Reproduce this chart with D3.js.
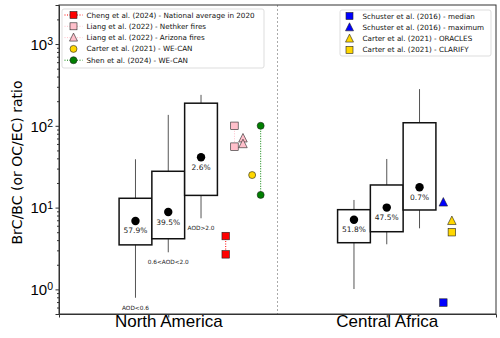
<!DOCTYPE html>
<html>
<head>
<meta charset="utf-8">
<script src="https://cdn.jsdelivr.net/npm/d3@7.9.0/dist/d3.min.js"></script>
<style>
  body { margin: 0; background: #fff; }
  svg { display: block; font-family: "DejaVu Sans", sans-serif; }
</style>
</head>
<body>
<div id="chart"></div>
<script>
// regions on the x axis and the three AOD bins inside each
const regions = ["North America", "Central Africa"];
const aodBins = ["AOD<0.6", "0.6<AOD<2.0", "AOD>2.0"];

// box stats per bin: [whisker low, q1, median, q3, whisker high]
const naStats = [
  [0.79, 3.5, 6.86, 13.0, 39],
  [2.84, 4.16, 8.83, 27.8, 136],
  [7.4, 14.1, 41.3, 189, 239]
];
const caStats = [
  [1.01, 3.72, 7.1, 9.43, 12.4],
  [3.56, 5.07, 10.0, 18.9, 39.3],
  [5.58, 9.35, 17.7, 109, 281]
];
const naPct = ["57.9%", "39.5%", "2.6%"];
const caPct = ["51.8%", "47.5%", "0.7%"];

// literature values
const chengNA = [4.49, 2.68];
const liangNethker = [100, 55.6];
const liangArizona = [70.5, 60];
const carterWECAN = [25];
const shenWECAN = [100, 14.3];
const schusterMedian = [0.69];
const schusterMax = [11.6];
const carterORACLES = [6.9];
const carterCLARIFY = [5.0];

const yTicks = [1, 10, 100, 1000];

const width = 500, height = 338;
const margin = {left: 59, right: 4, top: 5, bottom: 24};

const svg = d3.select("#chart").append("svg")
  .attr("width", width).attr("height", height);

const x = d3.scaleLinear().domain([-0.5, 1.5]).range([margin.left, width - margin.right]);
const y = d3.scaleLog().domain([0.5, 3000]).range([height - margin.bottom, margin.top]);

const boxW = 0.15;
const offsets = [-0.15, 0, 0.15];

// separator between the regions
svg.append("line")
  .attr("x1", x(0.5)).attr("x2", x(0.5))
  .attr("y1", y(3000)).attr("y2", y(0.5))
  .attr("stroke", "#aaa").attr("stroke-width", 1)
  .attr("stroke-dasharray", "2,2");

function drawBoxes(center, stats, pcts, binLabels) {
  stats.forEach((s, i) => {
    const cx = center + offsets[i];
    const g = svg.append("g");
    g.append("line")
      .attr("x1", x(cx)).attr("x2", x(cx))
      .attr("y1", y(s[0])).attr("y2", y(s[4]))
      .attr("stroke", "#555").attr("stroke-width", 1);
    g.append("rect")
      .attr("x", x(cx - boxW / 2)).attr("width", x(cx + boxW / 2) - x(cx - boxW / 2))
      .attr("y", y(s[3])).attr("height", y(s[1]) - y(s[3]))
      .attr("fill", "#fff").attr("stroke", "#111").attr("stroke-width", 1.5);
    g.append("circle")
      .attr("cx", x(cx)).attr("cy", y(s[2])).attr("r", 4.2).attr("fill", "#000");
    g.append("text")
      .attr("x", x(cx)).attr("y", y(s[2]) + 12.5)
      .attr("text-anchor", "middle").attr("font-size", 7.5).attr("fill", "#222")
      .text(pcts[i]);
    if (binLabels) {
      g.append("text")
        .attr("x", x(cx)).attr("y", y(s[0]) + 12)
        .attr("text-anchor", "middle").attr("font-size", 5.8).attr("fill", "#222")
        .text(binLabels[i]);
    }
  });
}
drawBoxes(0, naStats, naPct, aodBins);
drawBoxes(1, caStats, caPct, null);

function marker(g, shape, cx, cy, fill, size) {
  const s = size || 7.5;
  if (shape === "square") {
    g.append("rect").attr("x", cx - s / 2).attr("y", cy - s / 2)
      .attr("width", s).attr("height", s)
      .attr("fill", fill).attr("stroke", "#222").attr("stroke-width", 0.6);
  } else if (shape === "circle") {
    g.append("circle").attr("cx", cx).attr("cy", cy).attr("r", s / 2)
      .attr("fill", fill).attr("stroke", "#222").attr("stroke-width", 0.6);
  } else {
    const h = s * 1.0;
    g.append("path")
      .attr("d", `M${cx},${cy - h / 2 - 1}L${cx + s / 2 + 0.5},${cy + h / 2}L${cx - s / 2 - 0.5},${cy + h / 2}Z`)
      .attr("fill", fill).attr("stroke", "#222").attr("stroke-width", 0.6);
  }
}

const series = [
  {vals: chengNA, xpos: 0.263, shape: "square", color: "#ff0000", line: true, label: "Cheng et al. (2024) - National average in 2020", leg: 0},
  {vals: liangNethker, xpos: 0.303, shape: "square", color: "#ffc0cb", line: true, label: "Liang et al. (2022) - Nethker fires", leg: 0},
  {vals: liangArizona, xpos: 0.342, shape: "triangle", color: "#ffc0cb", line: true, label: "Liang et al. (2022) - Arizona fires", leg: 0},
  {vals: carterWECAN, xpos: 0.384, shape: "circle", color: "#ffd700", line: false, label: "Carter et al. (2021) - WE-CAN", leg: 0},
  {vals: shenWECAN, xpos: 0.423, shape: "circle", color: "#008000", line: true, label: "Shen et al. (2024) - WE-CAN", leg: 0},
  {vals: schusterMedian, xpos: 1.259, shape: "square", color: "#0000ff", line: false, label: "Schuster et al. (2016) - median", leg: 1},
  {vals: schusterMax, xpos: 1.259, shape: "triangle", color: "#0000ff", line: false, label: "Schuster et al. (2016) - maximum", leg: 1},
  {vals: carterORACLES, xpos: 1.298, shape: "triangle", color: "#ffd700", line: false, label: "Carter et al. (2021) - ORACLES", leg: 1},
  {vals: carterCLARIFY, xpos: 1.298, shape: "square", color: "#ffd700", line: false, label: "Carter et al. (2021) - CLARIFY", leg: 1}
];

series.forEach(d => {
  const g = svg.append("g");
  if (d.line && d.vals.length > 1) {
    g.append("line")
      .attr("x1", x(d.xpos)).attr("x2", x(d.xpos))
      .attr("y1", y(d3.max(d.vals))).attr("y2", y(d3.min(d.vals)))
      .attr("stroke", d.color).attr("stroke-width", 1)
      .attr("stroke-dasharray", "1,1.5");
  }
  d.vals.forEach(v => marker(g, d.shape, x(d.xpos), y(v), d.color, d.shape === "circle" ? 7 : 7.5));
});

// axes
const yAxis = d3.axisLeft(y).tickValues(yTicks).tickSize(3.5).tickFormat("");
const gy = svg.append("g").attr("transform", `translate(${margin.left},0)`).call(yAxis);
const minor = [];
for (let e = -1; e <= 3; e++) for (let m = 2; m <= 9; m++) {
  const v = m * Math.pow(10, e);
  if (v >= 0.5 && v <= 3000) minor.push(v);
}
svg.append("g").attr("transform", `translate(${margin.left},0)`)
  .call(d3.axisLeft(y).tickValues(minor).tickSize(2).tickFormat(""))
  .call(g => g.select(".domain").remove());
gy.selectAll(".tick").append("text")
  .attr("x", -6).attr("dy", "0.35em").attr("text-anchor", "end")
  .attr("fill", "#000").attr("font-size", 15)
  .each(function(d) {
    const t = d3.select(this);
    t.append("tspan").text("10");
    t.append("tspan").attr("dy", "-0.45em").attr("font-size", 10.5).text(Math.round(Math.log10(d)));
  });

const xAxis = d3.axisBottom(x).tickValues([0, 1]).tickSize(3.5).tickFormat((d, i) => regions[i]);
svg.append("g").attr("transform", `translate(0,${height - margin.bottom})`).call(xAxis)
  .selectAll("text").attr("font-size", 17).attr("fill", "#000").attr("y", 13).attr("dy", 0);

// frame
svg.append("rect")
  .attr("x", margin.left).attr("y", margin.top)
  .attr("width", width - margin.right - margin.left)
  .attr("height", height - margin.bottom - margin.top)
  .attr("fill", "none").attr("stroke", "#333").attr("stroke-width", 1);
svg.selectAll(".domain").attr("stroke", "#333");
svg.selectAll(".tick line").attr("stroke", "#333");

// y label
svg.append("text")
  .attr("transform", `translate(22,${(margin.top + height - margin.bottom) / 2 + 3}) rotate(-90)`)
  .attr("text-anchor", "middle").attr("font-size", 14).attr("fill", "#000")
  .text("BrC/BC (or OC/EC) ratio");

// legends
const legends = [
  {x: 62, y: 9, w: 202, h: 59, mx: 73.5, tx: 86.5},
  {x: 340, y: 10, w: 151, h: 46, mx: 349.5, tx: 362.5}
];
legends.forEach((L, li) => {
  const items = series.filter(d => d.leg === li);
  const g = svg.append("g");
  g.append("rect").attr("x", L.x).attr("y", L.y).attr("width", L.w).attr("height", L.h)
    .attr("rx", 2).attr("fill", "#fff").attr("fill-opacity", 0.85)
    .attr("stroke", "#ddd").attr("stroke-width", 1);
  items.forEach((d, i) => {
    const cy = L.y + 6 + i * 11.3;
    if (d.line) {
      g.append("line").attr("x1", L.mx - 9).attr("x2", L.mx + 9)
        .attr("y1", cy).attr("y2", cy)
        .attr("stroke", d.color).attr("stroke-width", 1).attr("stroke-dasharray", "1,1.5");
    }
    marker(g, d.shape, L.mx, cy, d.color, 7);
    g.append("text").attr("x", L.tx).attr("y", cy).attr("dy", "0.35em")
      .attr("font-size", 7.2).attr("fill", "#111").text(d.label);
  });
});
</script>
</body>
</html>
